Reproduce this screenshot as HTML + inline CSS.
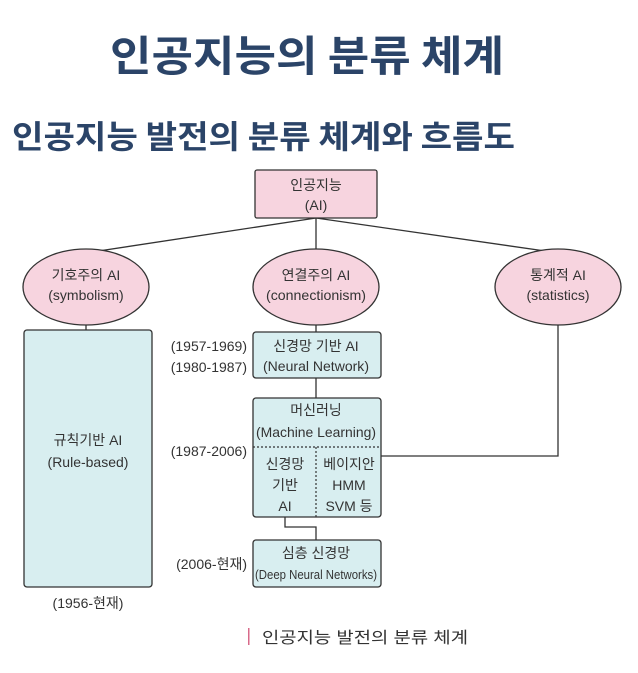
<!DOCTYPE html>
<html><head><meta charset="utf-8"><style>
html,body{margin:0;padding:0;background:#fff;}
svg{display:block;}
text{font-family:"Liberation Sans","Noto Sans CJK KR",sans-serif;}
</style></head><body>
<svg width="638" height="673" viewBox="0 0 638 673" xmlns="http://www.w3.org/2000/svg">
<text x="307" y="71" text-anchor="middle" font-size="42" font-weight="bold" fill="#2b4468" textLength="394" lengthAdjust="spacingAndGlyphs" style="font-family:'Noto Sans CJK KR',sans-serif">인공지능의 분류 체계</text>
<text x="12" y="148" font-size="32" font-weight="bold" fill="#2b4468" textLength="503" lengthAdjust="spacingAndGlyphs" style="font-family:'Noto Sans CJK KR',sans-serif">인공지능 발전의 분류 체계와 흐름도</text>
<g stroke="#333" stroke-width="1.3" fill="none">
<line x1="316" y1="218" x2="92" y2="252"/>
<line x1="316" y1="218" x2="316" y2="250"/>
<line x1="316" y1="218" x2="552" y2="252"/>
<line x1="86" y1="325" x2="86" y2="330"/>
<line x1="316" y1="325" x2="316" y2="332"/>
<line x1="316" y1="378" x2="316" y2="398"/>
<polyline points="558,325 558,456 381,456"/>
<polyline points="285,517 285,527 316,527 316,540"/>
</g>
<g stroke="#333" stroke-width="1.3">
<rect x="255" y="170" width="122" height="48" rx="2" fill="#f7d4df"/>
<ellipse cx="86" cy="287" rx="63" ry="38" fill="#f7d4df"/>
<ellipse cx="316" cy="287" rx="63" ry="38" fill="#f7d4df"/>
<ellipse cx="558" cy="287" rx="63" ry="38" fill="#f7d4df"/>
<rect x="24" y="330" width="128" height="257" rx="3" fill="#d8eef0"/>
<rect x="253" y="332" width="128" height="46" rx="3" fill="#d8eef0"/>
<rect x="253" y="398" width="128" height="119" rx="3" fill="#d8eef0"/>
<rect x="253" y="540" width="128" height="47" rx="3" fill="#d8eef0"/>
</g>
<g stroke="#333" stroke-width="1.2" stroke-dasharray="2,2">
<line x1="253" y1="447" x2="381" y2="447"/>
<line x1="316" y1="447" x2="316" y2="517"/>
</g>
<g font-size="14" fill="#333" text-anchor="middle">
<text x="316" y="190">인공지능</text>
<text x="316" y="210">(AI)</text>
<text x="86" y="280">기호주의 AI</text>
<text x="86" y="300">(symbolism)</text>
<text x="316" y="280">연결주의 AI</text>
<text x="316" y="300" textLength="100" lengthAdjust="spacingAndGlyphs">(connectionism)</text>
<text x="558" y="280">통계적 AI</text>
<text x="558" y="300">(statistics)</text>
<text x="88" y="445">규칙기반 AI</text>
<text x="88" y="467">(Rule-based)</text>
<text x="88" y="608">(1956-현재)</text>
<text x="316" y="351">신경망 기반 AI</text>
<text x="316" y="371" textLength="106" lengthAdjust="spacingAndGlyphs">(Neural Network)</text>
<text x="316" y="415">머신러닝</text>
<text x="316" y="437" textLength="120" lengthAdjust="spacingAndGlyphs">(Machine Learning)</text>
<text x="285" y="469">신경망</text>
<text x="285" y="490">기반</text>
<text x="285" y="511">AI</text>
<text x="349" y="469">베이지안</text>
<text x="349" y="490">HMM</text>
<text x="349" y="511">SVM 등</text>
<text x="316" y="558">심층 신경망</text>
<text x="316" y="579" font-size="13" textLength="122" lengthAdjust="spacingAndGlyphs">(Deep Neural Networks)</text>
</g>
<g font-size="14" fill="#333" text-anchor="end">
<text x="247" y="351">(1957-1969)</text>
<text x="247" y="372">(1980-1987)</text>
<text x="247" y="456">(1987-2006)</text>
<text x="247" y="569">(2006-현재)</text>
</g>
<rect x="248" y="628" width="1.5" height="17" fill="#d86a8a"/>
<text x="262" y="643" font-size="16" fill="#333" textLength="206" lengthAdjust="spacingAndGlyphs">인공지능 발전의 분류 체계</text>
</svg>
</body></html>
